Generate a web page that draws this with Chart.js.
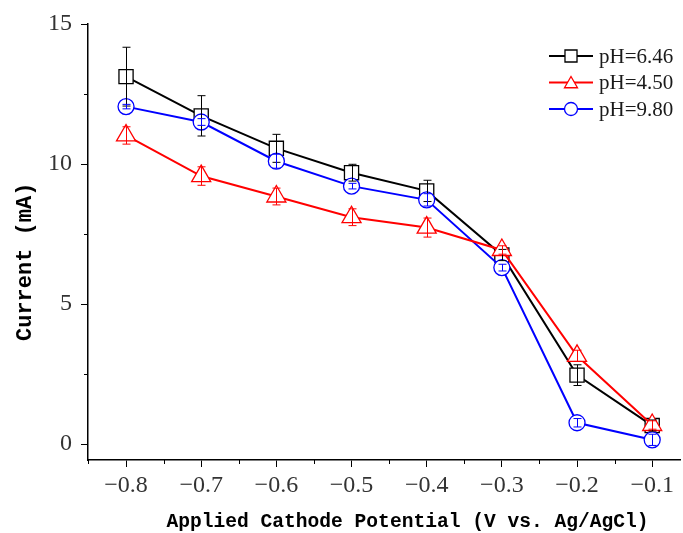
<!DOCTYPE html>
<html>
<head>
<meta charset="utf-8">
<script src="https://cdn.jsdelivr.net/npm/chart.js@4.4.1/dist/chart.umd.min.js"></script>
<style>
  html, body { margin: 0; padding: 0; background: #fff; }
</style>
</head>
<body>
<canvas id="chart" width="683" height="533"></canvas>
<script>
// Datos
const potentials = [-0.8, -0.7, -0.6, -0.5, -0.4, -0.3, -0.2, -0.1];
const xTickLabels = ['−0.8', '−0.7', '−0.6', '−0.5', '−0.4', '−0.3', '−0.2', '−0.1'];
const xMinorTicks = [-0.85, -0.75, -0.65, -0.55, -0.45, -0.35, -0.25, -0.15];
const yTicks = [0, 5, 10, 15];
const yMinorTicks = [2.5, 7.5, 12.5];

const seriesLabels = ['pH=6.46', 'pH=4.50', 'pH=9.80'];
const current646 = [13.12, 11.72, 10.56, 9.69, 9.04, 6.75, 2.46, 0.66];
const error646 = [1.05, 0.72, 0.50, 0.30, 0.38, 0.20, 0.37, 0.20];
const current450 = [11.02, 9.57, 8.84, 8.10, 7.73, 6.93, 3.15, 0.68];
const error450 = [0.31, 0.33, 0.30, 0.30, 0.34, 0.15, 0.20, 0.15];
const current980 = [12.05, 11.50, 10.10, 9.21, 8.72, 6.30, 0.76, 0.15];
const error980 = [0.08, 0.12, 0.25, 0.10, 0.22, 0.12, 0.15, 0.20];

const toPoints = (ys) => ys.map((y, i) => ({ x: potentials[i], y: y }));

// Barras de error
const errorBars = {
  id: 'errorBars',
  afterDatasetsDraw(chart) {
    const ctx = chart.ctx;
    const xs = chart.scales.x, ys = chart.scales.y;
    chart.data.datasets.forEach(ds => {
      ctx.save();
      ctx.strokeStyle = ds.borderColor;
      ctx.lineWidth = 1;
      ds.data.forEach((p, i) => {
        const e = ds.errors[i];
        const px = Math.round(xs.getPixelForValue(p.x)) + 0.5;
        const top = ys.getPixelForValue(p.y + e);
        const bot = ys.getPixelForValue(p.y - e);
        ctx.beginPath();
        ctx.moveTo(px, top); ctx.lineTo(px, bot);
        ctx.moveTo(px - 4, top); ctx.lineTo(px + 4, top);
        ctx.moveTo(px - 4, bot); ctx.lineTo(px + 4, bot);
        ctx.stroke();
      });
      ctx.restore();
    });
  }
};

// Marcas menores y leyenda
const extras = {
  id: 'extras',
  afterDraw(chart) {
    const ctx = chart.ctx;
    const xs = chart.scales.x, ys = chart.scales.y;
    const area = chart.chartArea;
    ctx.save();
    ctx.strokeStyle = '#000';
    ctx.lineWidth = 1;
    ctx.beginPath();
    xMinorTicks.forEach(v => {
      const px = Math.round(xs.getPixelForValue(v)) + 0.5;
      ctx.moveTo(px, area.bottom); ctx.lineTo(px, area.bottom + 4);
    });
    yMinorTicks.forEach(v => {
      const py = Math.round(ys.getPixelForValue(v)) + 0.5;
      ctx.moveTo(area.left, py); ctx.lineTo(area.left - 4, py);
    });
    ctx.stroke();

    // leyenda
    const legendSizes = [8.5, 7.5, 6.5];
    chart.data.datasets.forEach((ds, i) => {
      const y = 56 + i * 26.5;
      ctx.strokeStyle = ds.borderColor;
      ctx.lineWidth = 2;
      ctx.beginPath();
      ctx.moveTo(549, y); ctx.lineTo(593, y);
      ctx.stroke();
      ctx.fillStyle = '#fff';
      ctx.lineWidth = 1.3;
      Chart.helpers.drawPoint(ctx, { pointStyle: ds.pointStyle, radius: legendSizes[i], rotation: 0, borderWidth: 1.3 }, 571, ds.pointStyle === 'triangle' ? y + 1.5 : y);
      ctx.fillStyle = '#1a1a1a';
      ctx.font = '21px "Liberation Serif"';
      ctx.textBaseline = 'middle';
      ctx.textAlign = 'left';
      ctx.fillText(ds.label, 599, y + 1);
    });
    ctx.restore();
  }
};

new Chart(document.getElementById('chart'), {
  type: 'line',
  data: {
    datasets: [
      {
        label: seriesLabels[0], data: toPoints(current646), errors: error646,
        borderColor: '#000000', backgroundColor: '#ffffff', borderWidth: 2,
        pointStyle: 'rect', pointRadius: 10, pointBorderWidth: 1.3, order: 2
      },
      {
        label: seriesLabels[1], data: toPoints(current450), errors: error450,
        borderColor: '#ff0000', backgroundColor: '#ffffff', borderWidth: 2,
        pointStyle: 'triangle', pointRadius: 11, pointBorderWidth: 1.3, order: 0
      },
      {
        label: seriesLabels[2], data: toPoints(current980), errors: error980,
        borderColor: '#0000ff', backgroundColor: '#ffffff', borderWidth: 2,
        pointStyle: 'circle', pointRadius: 8, pointBorderWidth: 1.3, order: 1
      }
    ]
  },
  options: {
    responsive: false,
    animation: false,
    devicePixelRatio: 1,
    layout: { autoPadding: false, padding: { top: 24, right: 3, left: 0, bottom: 0 } },
    plugins: {
      legend: { display: false },
      tooltip: { enabled: false }
    },
    scales: {
      x: {
        type: 'linear',
        min: -0.8506,
        max: -0.063,
        afterBuildTicks: (scale) => { scale.ticks = potentials.map(v => ({ value: v })); },
        afterFit: (scale) => { scale.height = 73; },
        ticks: {
          color: '#333',
          font: { family: '"Liberation Serif"', size: 24 },
          padding: 4,
          maxRotation: 0,
          autoSkip: false,
          callback: (value, index) => xTickLabels[index]
        },
        grid: { drawOnChartArea: false, drawTicks: true, tickLength: 7, tickColor: '#000', tickWidth: 1 },
        border: { display: true, color: '#000', width: 1.5 },
        title: {
          display: true,
          text: '    Applied Cathode Potential (V vs. Ag/AgCl)',
          color: '#000',
          font: { family: '"Liberation Mono"', size: 19.6, weight: 'bold' },
          padding: { top: 0, bottom: -1 }
        }
      },
      y: {
        min: -0.57,
        max: 15,
        afterBuildTicks: (scale) => { scale.ticks = yTicks.map(v => ({ value: v })); },
        afterFit: (scale) => { scale.width = 88; },
        ticks: {
          color: '#333',
          font: { family: '"Liberation Serif"', size: 24 },
          padding: 9
        },
        grid: { drawOnChartArea: false, drawTicks: true, tickLength: 7, tickColor: '#000', tickWidth: 1 },
        border: { display: true, color: '#000', width: 1.5 },
        title: {
          display: true,
          text: 'Current (mA)   ',
          color: '#000',
          font: { family: '"Liberation Mono"', size: 22, weight: 'bold' },
          padding: { top: 12, bottom: 0 }
        }
      }
    }
  },
  plugins: [errorBars, extras]
});
</script>
</body>
</html>
